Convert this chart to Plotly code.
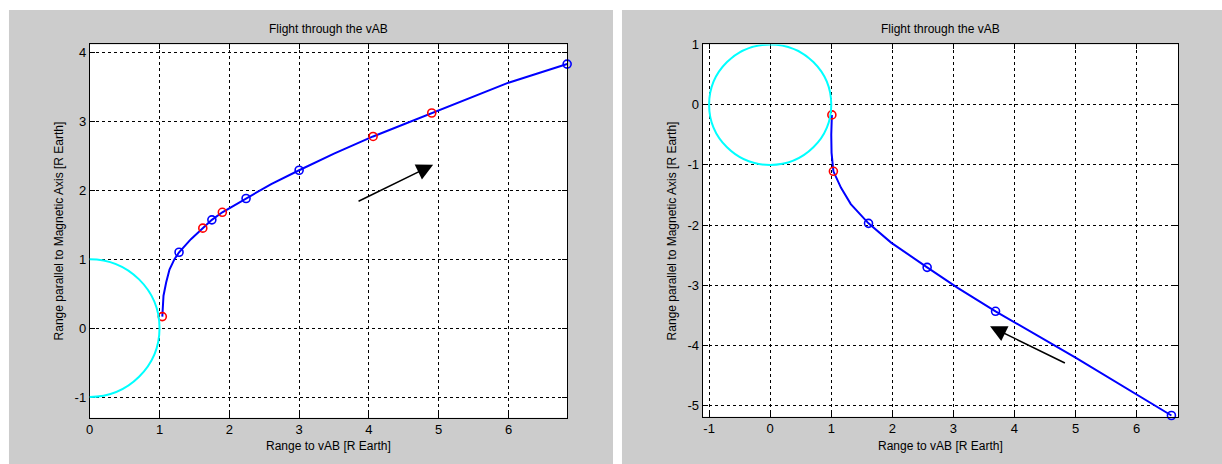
import plotly.graph_objects as go

# ---------------- data ----------------
title_text = "Flight through the vAB"
xlabel = "Range to vAB [R Earth]"
ylabel = "Range parallel to Magnetic Axis [R Earth]"

# left panel (northward flight)
left_path_x = [1.04, 1.057, 1.095, 1.143, 1.214, 1.28, 1.45, 1.62, 1.75, 1.90, 2.24, 2.60, 3.00, 3.50, 4.06, 4.90, 6.00, 6.84]
left_path_y = [0.167, 0.47, 0.66, 0.85, 1.00, 1.10, 1.29, 1.45, 1.57, 1.68, 1.88, 2.09, 2.29, 2.53, 2.78, 3.12, 3.56, 3.83]
left_red_x = [1.04, 1.62, 1.90, 4.06, 4.90]
left_red_y = [0.167, 1.45, 1.68, 2.78, 3.12]
left_blue_x = [1.28, 1.75, 2.24, 3.00, 6.84]
left_blue_y = [1.10, 1.57, 1.88, 2.29, 3.83]
left_arrow = [3.83, 1.83, 4.92, 2.37]   # tail x, tail y, head x, head y

# right panel (southward flight)
right_path_x = [1.01, 1.00, 1.005, 1.035, 1.16, 1.32, 1.61, 1.98, 2.57, 3.07, 3.69, 5.00, 6.57]
right_path_y = [-0.17, -0.50, -0.80, -1.106, -1.38, -1.65, -1.97, -2.29, -2.70, -3.04, -3.43, -4.20, -5.16]
right_red_x = [1.01, 1.035]
right_red_y = [-0.17, -1.106]
right_blue_x = [1.61, 2.57, 3.69, 6.57]
right_blue_y = [-1.97, -2.70, -3.43, -5.16]
right_arrow = [4.85, -4.30, 3.60, -3.68]

earth_radius = 1.0

left_xticks = [0, 1, 2, 3, 4, 5, 6]
left_xlabels = ["0", "1", "2", "3", "4", "5", "6"]
left_yticks = [-1, 0, 1, 2, 3, 4]
left_ylabels = ["-1", "0", "1", "2", "3", "4"]
right_xticks = [-1, 0, 1, 2, 3, 4, 5, 6]
right_xlabels = ["-1", "0", "1", "2", "3", "4", "5", "6"]
right_yticks = [-5, -4, -3, -2, -1, 0, 1]
right_ylabels = ["-5", "-4", "-3", "-2", "-1", "0", "1"]

left_xrange = [0, 6.84]
left_yrange = [-1.30, 4.115]
right_xrange = [-1.105, 6.68]
right_yrange = [-5.18, 1.0]

# ---------------- figure ----------------
W, H = 1222, 464
FONT = "Arial, Liberation Sans, Helvetica, sans-serif"
BLUE = "#0000ff"
RED = "#ff0000"
CYAN = "#00ffff"

def px_x(p):
    return p / W

def px_y(p):
    return (H - p) / H

fig = go.Figure()

def add_panel(xa, ya, px, py, rx, ry, bx, by):
    fig.add_trace(go.Scatter(x=px, y=py, mode="lines", line=dict(color=BLUE, width=2),
                             xaxis=xa, yaxis=ya, showlegend=False, hoverinfo="skip"))
    fig.add_trace(go.Scatter(x=rx, y=ry, mode="markers", cliponaxis=False,
                             marker=dict(symbol="circle-open", size=8, color=RED, line=dict(width=1.6, color=RED)),
                             xaxis=xa, yaxis=ya, showlegend=False, hoverinfo="skip"))
    fig.add_trace(go.Scatter(x=bx, y=by, mode="markers", cliponaxis=False,
                             marker=dict(symbol="circle-open", size=8, color=BLUE, line=dict(width=1.6, color=BLUE)),
                             xaxis=xa, yaxis=ya, showlegend=False, hoverinfo="skip"))

add_panel("x", "y", left_path_x, left_path_y, left_red_x, left_red_y, left_blue_x, left_blue_y)
add_panel("x2", "y2", right_path_x, right_path_y, right_red_x, right_red_y, right_blue_x, right_blue_y)

# background panels (grey figure windows)
fig.add_shape(type="rect", xref="paper", yref="paper", x0=px_x(5), x1=px_x(611), y0=0, y1=px_y(3),
              fillcolor="#cccccc", line=dict(width=0), layer="below")
fig.add_shape(type="rect", xref="paper", yref="paper", x0=px_x(620), x1=1, y0=0, y1=px_y(3),
              fillcolor="#cccccc", line=dict(width=0), layer="below")
# white plot areas
fig.add_shape(type="rect", xref="paper", yref="paper", x0=px_x(86), x1=px_x(565), y0=px_y(417), y1=px_y(38),
              fillcolor="white", line=dict(width=0), layer="below")
fig.add_shape(type="rect", xref="paper", yref="paper", x0=px_x(701), x1=px_x(1178), y0=px_y(416), y1=px_y(38),
              fillcolor="white", line=dict(width=0), layer="below")

# Earth circles
for xr, yr in (("x", "y"), ("x2", "y2")):
    fig.add_shape(type="circle", xref=xr, yref=yr, x0=-earth_radius, x1=earth_radius,
                  y0=-earth_radius, y1=earth_radius, line=dict(color=CYAN, width=2), layer="above")

axis_common = dict(showline=True, linecolor="black", linewidth=1, mirror="ticks",
                   ticks="inside", ticklen=5, tickcolor="black", tickwidth=1,
                   showgrid=True, gridcolor="black", gridwidth=1, griddash="3px,3px",
                   zeroline=False, tickfont=dict(family=FONT, size=13, color="black"),
                   fixedrange=True)

fig.update_layout(
    width=W, height=H,
    margin=dict(l=0, r=0, t=0, b=0),
    paper_bgcolor="white", plot_bgcolor="rgba(0,0,0,0)",
    xaxis=dict(domain=[px_x(86), px_x(565)], range=left_xrange, tickvals=left_xticks,
               ticktext=left_xlabels, anchor="y", **axis_common),
    yaxis=dict(domain=[px_y(417), px_y(38)], range=left_yrange, tickvals=left_yticks,
               ticktext=left_ylabels, anchor="x", **axis_common),
    xaxis2=dict(domain=[px_x(701), px_x(1178)], range=right_xrange, tickvals=right_xticks,
                ticktext=right_xlabels, anchor="y2", **axis_common),
    yaxis2=dict(domain=[px_y(416), px_y(38)], range=right_yrange, tickvals=right_yticks,
                ticktext=right_ylabels, anchor="x2", **axis_common),
)

ann = []
for cx, ylab_x in ((325.5, 55), (939.5, 670)):
    ann.append(dict(text=title_text, x=px_x(cx), y=px_y(22), xref="paper", yref="paper",
                    showarrow=False, xanchor="center", yanchor="middle",
                    font=dict(family=FONT, size=12, color="black")))
    ann.append(dict(text=xlabel, x=px_x(cx), y=px_y(446), xref="paper", yref="paper",
                    showarrow=False, xanchor="center", yanchor="middle",
                    font=dict(family=FONT, size=12, color="black")))
    ann.append(dict(text=ylabel, x=px_x(ylab_x), y=px_y(227), xref="paper", yref="paper",
                    showarrow=False, xanchor="center", yanchor="middle", textangle=-90,
                    font=dict(family=FONT, size=12, color="black")))

for arr, xr, yr in ((left_arrow, "x", "y"), (right_arrow, "x2", "y2")):
    tx, ty, hx, hy = arr
    ann.append(dict(x=hx, y=hy, ax=tx, ay=ty, xref=xr, yref=yr, axref=xr, ayref=yr,
                    text="", showarrow=True, arrowhead=2, arrowsize=2.2, arrowwidth=1.5,
                    arrowcolor="black"))

fig.update_layout(annotations=ann)

fig.write_html("out.html",
               config={"displayModeBar": False, "staticPlot": True},
               post_script="document.documentElement.style.margin='0';"
                           "document.body.style.margin='0';document.body.style.padding='0';"
                           "document.body.style.overflow='hidden';")
